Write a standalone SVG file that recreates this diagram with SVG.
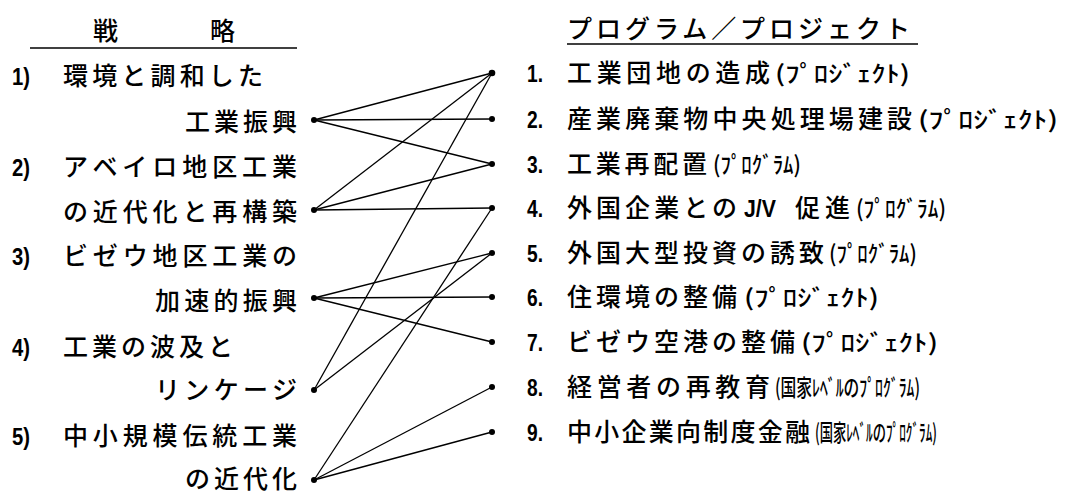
<svg xmlns="http://www.w3.org/2000/svg" width="1070" height="494" viewBox="0 0 1070 494">
<style>
.t{font-family:"Noto Sans CJK JP","Noto Sans CJK SC",sans-serif;font-size:25px;font-weight:500;fill:#000}
.n{font-family:"Liberation Sans Narrow","Liberation Sans",sans-serif;font-size:24px;font-weight:bold;fill:#000}
.p{font-family:"Noto Sans CJK JP","Noto Sans CJK SC",sans-serif;font-size:23px;font-weight:500;fill:#000}
.c line{stroke:#000;stroke-width:1.3}
.d{fill:#000}
.u{stroke:#000;stroke-width:1.3}
</style>
<rect width="1070" height="494" fill="#fff"/>
<g id="header-left">
<text class="t" x="93" y="40">戦</text>
<text class="t" x="210" y="40">略</text>
<line class="u" x1="30" y1="48" x2="297" y2="48"/>
</g>
<g id="header-right">
<text class="t" x="567" y="38" textLength="343" lengthAdjust="spacing">プログラム／プロジェクト</text>
<line class="u" x1="567" y1="44" x2="918" y2="44"/>
</g>
<g class="c" id="connectors">
<line x1="314" y1="120" x2="492" y2="73"/>
<line x1="314" y1="120" x2="492" y2="119"/>
<line x1="314" y1="120" x2="492" y2="164"/>
<line x1="314" y1="210" x2="492" y2="73"/>
<line x1="314" y1="210" x2="492" y2="164"/>
<line x1="314" y1="210" x2="492" y2="208"/>
<line x1="314" y1="298" x2="492" y2="253"/>
<line x1="314" y1="298" x2="492" y2="297"/>
<line x1="314" y1="298" x2="492" y2="342"/>
<line x1="314" y1="390" x2="492" y2="73"/>
<line x1="314" y1="390" x2="492" y2="253"/>
<line x1="314" y1="480" x2="492" y2="208"/>
<line x1="314" y1="480" x2="492" y2="387"/>
<line x1="314" y1="480" x2="492" y2="432"/>
</g>
<g id="s1">
<text class="n" x="12" y="85" textLength="18" lengthAdjust="spacingAndGlyphs">1)</text>
<text class="t" x="63" y="85" textLength="200" lengthAdjust="spacing">環境と調和した</text>
<text class="t" x="185" y="131" textLength="112" lengthAdjust="spacing">工業振興</text>
<circle class="d" cx="314" cy="120" r="3"/>
</g>
<g id="s2">
<text class="n" x="12" y="176" textLength="18" lengthAdjust="spacingAndGlyphs">2)</text>
<text class="t" x="63" y="176" textLength="234" lengthAdjust="spacing">アベイロ地区工業</text>
<text class="t" x="63" y="221" textLength="234" lengthAdjust="spacing">の近代化と再構築</text>
<circle class="d" cx="314" cy="210" r="3"/>
</g>
<g id="s3">
<text class="n" x="12" y="265" textLength="18" lengthAdjust="spacingAndGlyphs">3)</text>
<text class="t" x="63" y="265" textLength="234" lengthAdjust="spacing">ビゼウ地区工業の</text>
<text class="t" x="155" y="310" textLength="142" lengthAdjust="spacing">加速的振興</text>
<circle class="d" cx="314" cy="298" r="3"/>
</g>
<g id="s4">
<text class="n" x="12" y="356" textLength="18" lengthAdjust="spacingAndGlyphs">4)</text>
<text class="t" x="63" y="356" textLength="170" lengthAdjust="spacing">工業の波及と</text>
<text class="t" x="155" y="399" textLength="142" lengthAdjust="spacing">リンケージ</text>
<circle class="d" cx="314" cy="390" r="3"/>
</g>
<g id="s5">
<text class="n" x="12" y="445" textLength="18" lengthAdjust="spacingAndGlyphs">5)</text>
<text class="t" x="63" y="445" textLength="234" lengthAdjust="spacing">中小規模伝統工業</text>
<text class="t" x="185" y="488" textLength="112" lengthAdjust="spacing">の近代化</text>
<circle class="d" cx="314" cy="480" r="3"/>
</g>
<g id="p1">
<circle class="d" cx="492" cy="73" r="3.3"/>
<text class="n" x="527" y="82" textLength="16" lengthAdjust="spacingAndGlyphs">1.</text>
<text class="t" x="567" y="82" textLength="203" lengthAdjust="spacing">工業団地の造成</text>
<text class="p" x="775" y="82" textLength="135" lengthAdjust="spacingAndGlyphs">(ﾌﾟﾛｼﾞｪｸﾄ)</text>
</g>
<g id="p2">
<circle class="d" cx="492" cy="119" r="3"/>
<text class="n" x="527" y="128" textLength="16" lengthAdjust="spacingAndGlyphs">2.</text>
<text class="t" x="567" y="128" textLength="345" lengthAdjust="spacing">産業廃棄物中央処理場建設</text>
<text class="p" x="918" y="128" textLength="140" lengthAdjust="spacingAndGlyphs">(ﾌﾟﾛｼﾞｪｸﾄ)</text>
</g>
<g id="p3">
<circle class="d" cx="492" cy="164" r="3"/>
<text class="n" x="527" y="173" textLength="16" lengthAdjust="spacingAndGlyphs">3.</text>
<text class="t" x="567" y="173" textLength="140" lengthAdjust="spacing">工業再配置</text>
<text class="p" x="713" y="173" textLength="88" lengthAdjust="spacingAndGlyphs">(ﾌﾟﾛｸﾞﾗﾑ)</text>
</g>
<g id="p4">
<circle class="d" cx="492" cy="208" r="3"/>
<text class="n" x="527" y="217" textLength="16" lengthAdjust="spacingAndGlyphs">4.</text>
<text class="t" x="567" y="217" textLength="170" lengthAdjust="spacing">外国企業との</text>
<text class="n" x="744" y="217" textLength="32" lengthAdjust="spacingAndGlyphs">J/V</text>
<text class="t" x="795" y="217" textLength="55" lengthAdjust="spacing">促進</text>
<text class="p" x="856" y="217" textLength="90" lengthAdjust="spacingAndGlyphs">(ﾌﾟﾛｸﾞﾗﾑ)</text>
</g>
<g id="p5">
<circle class="d" cx="492" cy="253" r="3"/>
<text class="n" x="527" y="262" textLength="16" lengthAdjust="spacingAndGlyphs">5.</text>
<text class="t" x="567" y="262" textLength="257" lengthAdjust="spacing">外国大型投資の誘致</text>
<text class="p" x="829" y="262" textLength="88" lengthAdjust="spacingAndGlyphs">(ﾌﾟﾛｸﾞﾗﾑ)</text>
</g>
<g id="p6">
<circle class="d" cx="492" cy="297" r="3"/>
<text class="n" x="527" y="306" textLength="16" lengthAdjust="spacingAndGlyphs">6.</text>
<text class="t" x="567" y="306" textLength="170" lengthAdjust="spacing">住環境の整備</text>
<text class="p" x="744" y="306" textLength="135" lengthAdjust="spacingAndGlyphs">(ﾌﾟﾛｼﾞｪｸﾄ)</text>
</g>
<g id="p7">
<circle class="d" cx="492" cy="342" r="3"/>
<text class="n" x="527" y="351" textLength="16" lengthAdjust="spacingAndGlyphs">7.</text>
<text class="t" x="567" y="351" textLength="228" lengthAdjust="spacing">ビゼウ空港の整備</text>
<text class="p" x="801" y="351" textLength="137" lengthAdjust="spacingAndGlyphs">(ﾌﾟﾛｼﾞｪｸﾄ)</text>
</g>
<g id="p8">
<circle class="d" cx="492" cy="387" r="3"/>
<text class="n" x="527" y="396" textLength="16" lengthAdjust="spacingAndGlyphs">8.</text>
<text class="t" x="567" y="396" textLength="203" lengthAdjust="spacing">経営者の再教育</text>
<text class="p" x="775" y="396" textLength="145" lengthAdjust="spacingAndGlyphs">(国家ﾚﾍﾞﾙのﾌﾟﾛｸﾞﾗﾑ)</text>
</g>
<g id="p9">
<circle class="d" cx="492" cy="432" r="3"/>
<text class="n" x="527" y="441" textLength="16" lengthAdjust="spacingAndGlyphs">9.</text>
<text class="t" x="567" y="441" textLength="243" lengthAdjust="spacing">中小企業向制度金融</text>
<text class="p" x="815" y="441" textLength="122" lengthAdjust="spacingAndGlyphs">(国家ﾚﾍﾞﾙのﾌﾟﾛｸﾞﾗﾑ)</text>
</g>
</svg>
